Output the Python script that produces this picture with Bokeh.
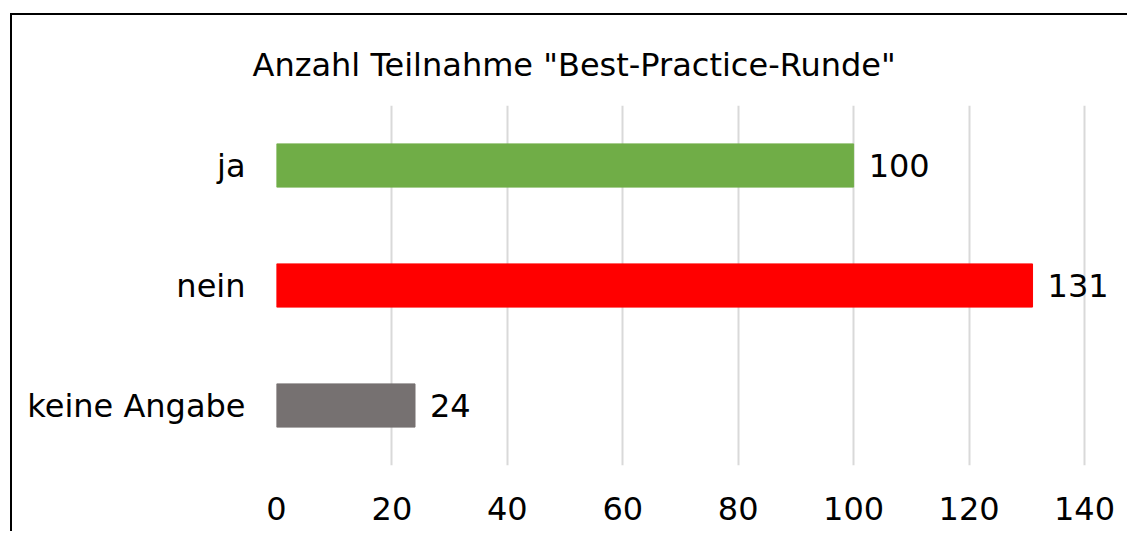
from bokeh.plotting import figure
from bokeh.models import ColumnDataSource, FixedTicker, Range1d
from bokeh.core.properties import value
from bokeh.embed import file_html
from bokeh.resources import INLINE

categories = ["keine Angabe", "nein", "ja"]
counts = [24, 131, 100]
colors = ["#767171", "#FF0000", "#70AD47"]
x_ticks = [0, 20, 40, 60, 80, 100, 120, 140]
title_text = 'Anzahl Teilnahme "Best-Practice-Runde"'

FONT = "DejaVu Sans"

src = ColumnDataSource(dict(cat=categories, val=counts, color=colors,
                            lbl=[str(v) for v in counts]))

p = figure(y_range=categories, x_range=Range1d(0, 147.8),
           width=1117, height=518, output_backend="svg", toolbar_location=None,
           min_border_left=264, min_border_right=0, min_border_top=90,
           min_border_bottom=68)
p.margin = (13, 0, 0, 10)
p.styles = {"border-left": "2px solid black", "border-top": "2px solid black"}

p.hbar(y="cat", right="val", left=0, height=0.36, color="color", source=src)
p.text(x="val", y="cat", text="lbl", source=src, x_offset=15,
       text_align="left", text_baseline="middle",
       text_font=value(FONT), text_font_size="32px", text_color="black")

p.title.text = title_text
p.title.align = "left"
p.title.offset = -24
p.title.text_font = FONT
p.title.text_font_size = "32px"
p.title.text_font_style = "normal"
p.title.text_color = "black"
p.title.standoff = 43

p.outline_line_color = None
p.xaxis.ticker = FixedTicker(ticks=x_ticks)
p.xaxis.axis_line_color = None
p.xaxis.major_tick_line_color = None
p.xaxis.minor_tick_line_color = None
p.xaxis.major_label_standoff = 25
p.xaxis.major_label_text_font = FONT
p.xaxis.major_label_text_font_size = "32px"
p.xaxis.major_label_text_color = "black"

p.yaxis.axis_line_color = None
p.yaxis.major_tick_line_color = None
p.yaxis.minor_tick_line_color = None
p.yaxis.major_label_standoff = 25
p.yaxis.major_label_text_font = FONT
p.yaxis.major_label_text_font_size = "32px"
p.yaxis.major_label_text_color = "black"

p.xgrid.grid_line_color = "#D9D9D9"
p.xgrid.grid_line_width = 2
p.ygrid.grid_line_color = None
p.y_range.range_padding = 0

open("out.html", "w").write(file_html(p, INLINE))
